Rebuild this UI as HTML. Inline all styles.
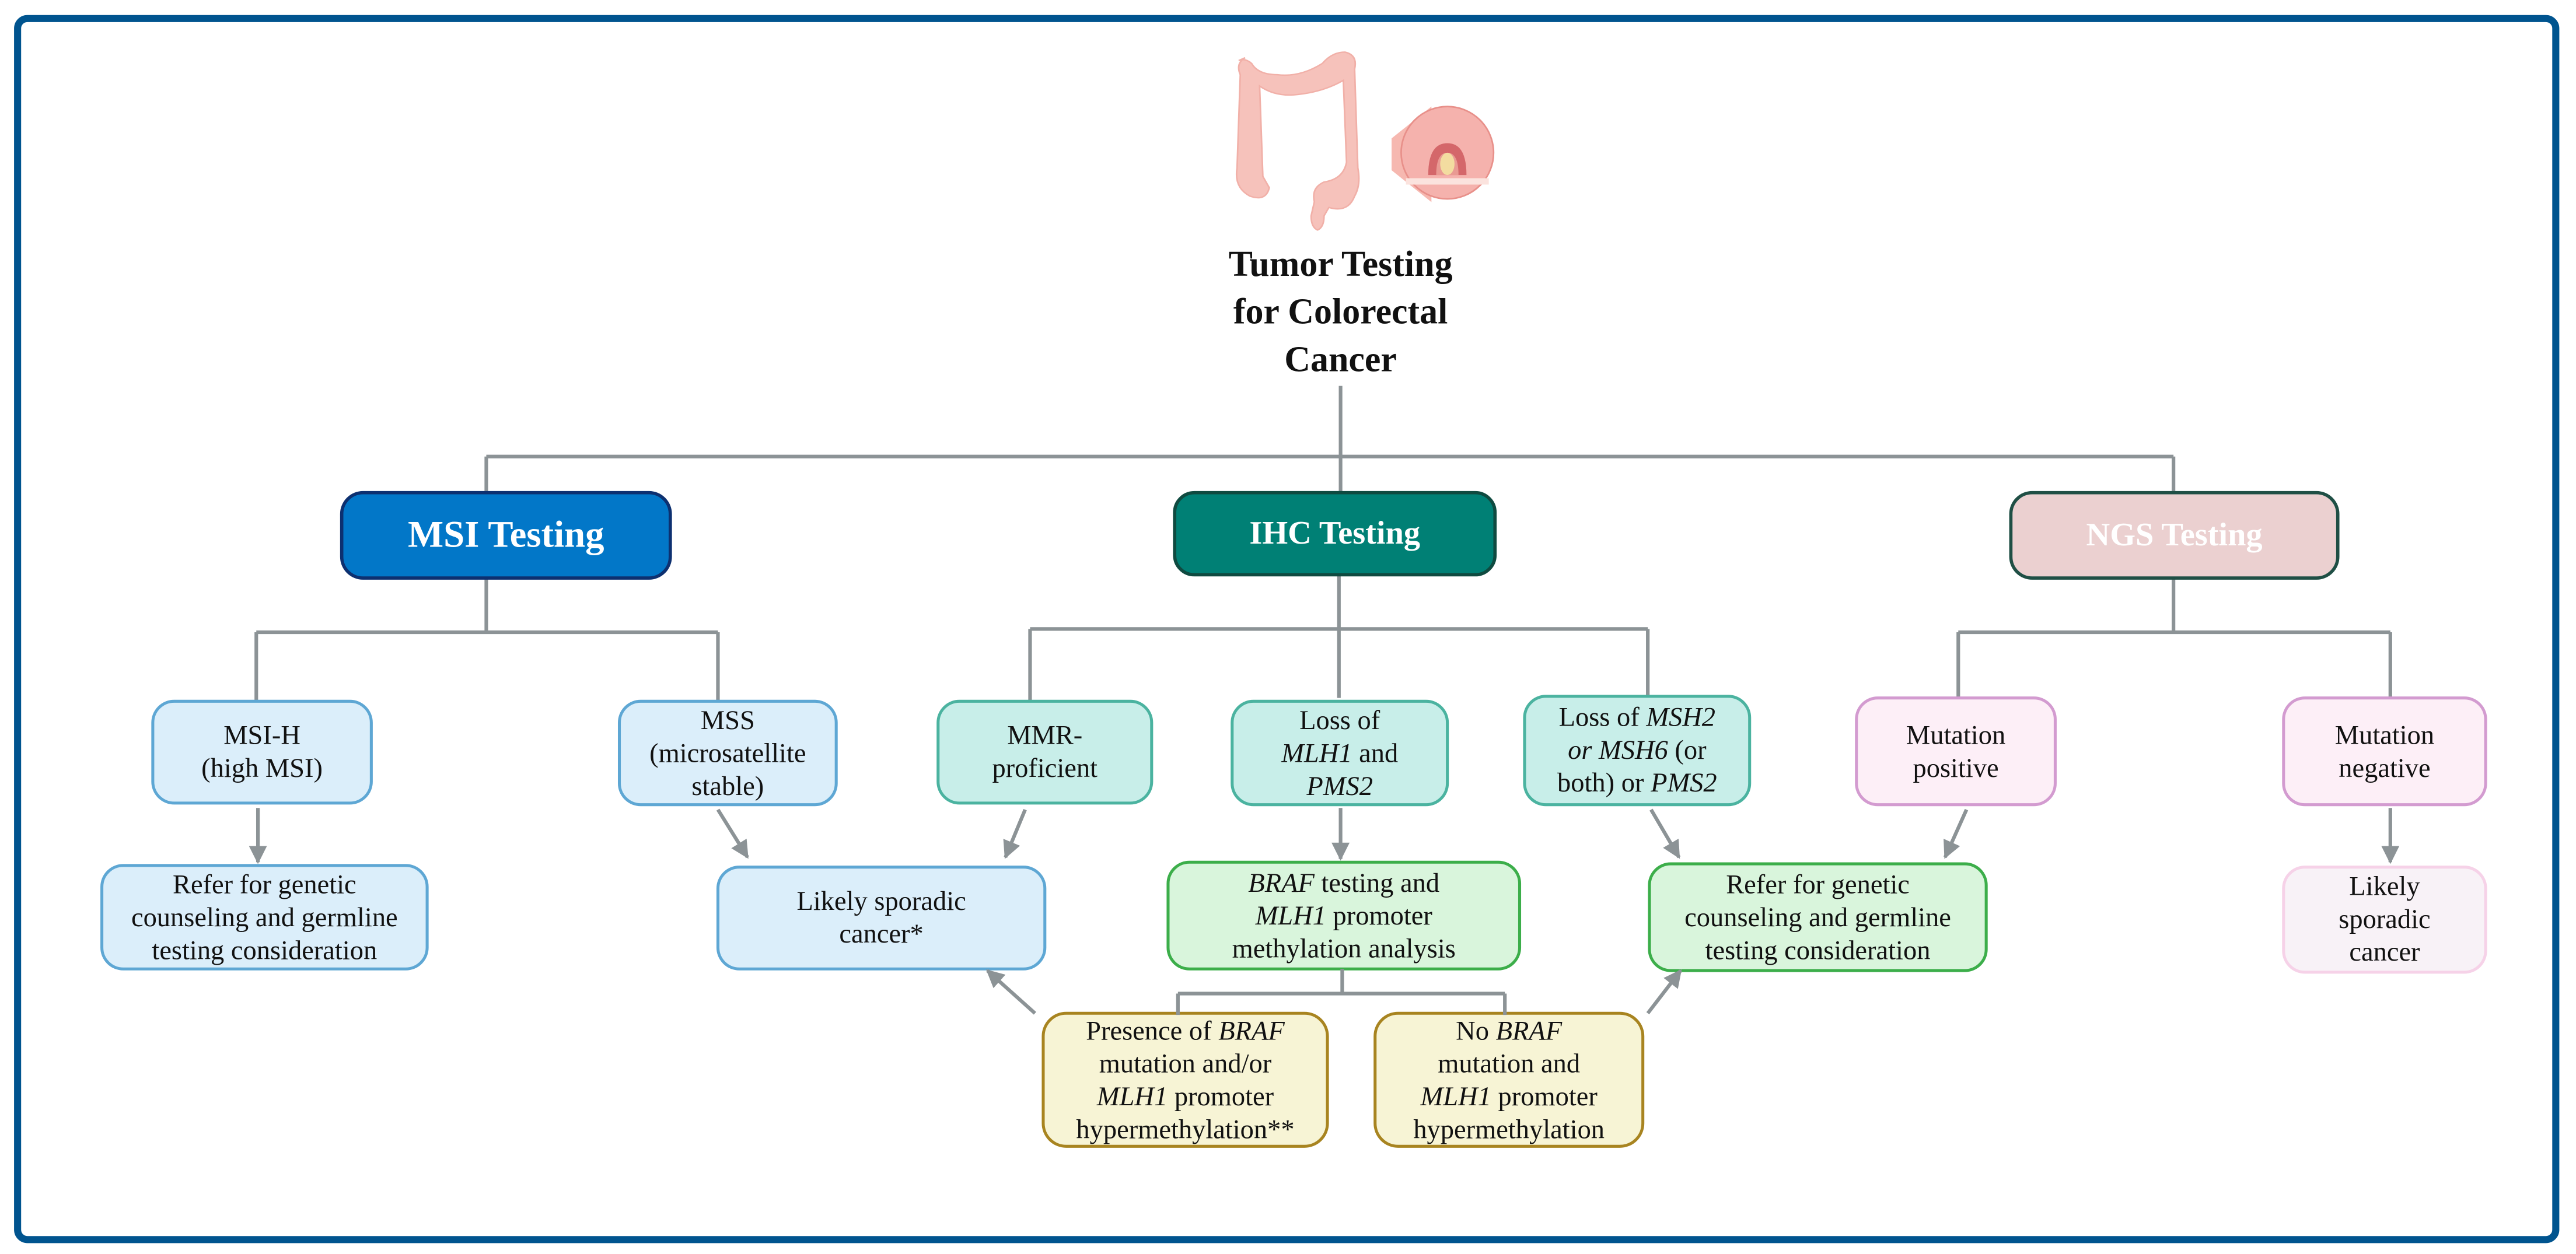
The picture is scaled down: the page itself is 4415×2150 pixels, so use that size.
<!DOCTYPE html>
<html><head><meta charset="utf-8"><style>
html,body{margin:0;padding:0;background:#fff;width:4415px;height:2150px;overflow:hidden}
.c{position:absolute;left:0;top:0;width:1568px;height:763.6px;transform:scale(2.81569);transform-origin:0 0}
svg{position:absolute;left:0;top:0;display:block}
.b{position:absolute;display:flex;align-items:center;justify-content:center;text-align:center;font-family:"Liberation Serif","Times New Roman",serif;font-size:16.5px;line-height:20px;color:#111}
.b i{font-style:italic}
.h{font-size:22px;font-weight:bold;color:#fff;line-height:26px}
.ln{stroke:#8c9396;stroke-width:2.2;fill:none}
</style></head><body>
<div class="c">
<svg width="1568" height="763.6" viewBox="0 0 1568 763.6" xmlns="http://www.w3.org/2000/svg">
<defs>
<marker id="a" viewBox="0 0 10 10" refX="9" refY="5" markerWidth="5" markerHeight="5" orient="auto" markerUnits="strokeWidth"><path d="M0,0 L10,5 L0,10 z" fill="#8c9396"/></marker>
</defs>
<rect x="10.7" y="11.3" width="1545" height="743.5" rx="6" fill="#fff" stroke="#00548f" stroke-width="4.3"/>

<g fill="#f6c2bb" stroke="#f1b0a8" stroke-width="1" transform="translate(753,30) scale(0.98,0.86) translate(-755,-38)">
<path d="M760,44 q-6,4 -3,12 l-2,66 q-2,14 8,20 q10,4 12,-6 l-4,-8 l-2,-64 q10,8 24,6 q16,-2 28,-10 l2,58 q-2,12 -14,14 q-8,4 -6,14 l-2,10 q0,8 4,10 q4,-2 4,-10 l3,-6 q12,4 16,-8 q4,-8 2,-20 l-2,-70 q2,-10 -6,-12 q-8,0 -14,8 q-14,10 -28,8 q-12,0 -16,-8 q-4,-4 -8,-2 z"/>
</g>
<g transform="translate(881,93) scale(0.97) translate(-882,-99)">
<path d="M847,90 L872,70 L872,130 L847,110 z" fill="#f6b8b0"/>
<circle cx="882" cy="99" r="29" fill="#f5b2ad" stroke="#e8908a" stroke-width="1"/>
<path d="M870,113 q0,-20 12,-20 q12,0 12,20 z" fill="#d4676a"/>
<path d="M875,113 q0,-14 7,-14 q7,0 7,14 z" fill="#e99a93"/>
<ellipse cx="882" cy="106" rx="4.5" ry="7" fill="#f3dca0"/>
<rect x="856" y="115" width="52" height="4" fill="#fbe3de"/>
</g>

<path class="ln" d="M816,235 V300 M296,278 H1323 M296,278 V300 M1323,278 V300"/>
<path class="ln" d="M296,352 V385 M156,385 H437 M156,385 V427 M437,385 V427"/>
<path class="ln" d="M815,350 V425 M627,383 H1003 M627,383 V427 M1003,383 V425"/>
<path class="ln" d="M1323,352 V385 M1192,385 H1455 M1192,385 V427 M1455,385 V425"/>

<rect x="208" y="300" width="200" height="52" rx="13" fill="#0277c8" stroke="#0d3070" stroke-width="2"/>
<rect x="715" y="300" width="195" height="50" rx="12" fill="#008075" stroke="#0f4a40" stroke-width="2"/>
<rect x="1224" y="300" width="199" height="52" rx="13" fill="#ebd0d0" stroke="#1f4f45" stroke-width="2"/>

<g stroke-width="1.8">
<rect x="93" y="427" width="133" height="62" rx="13" fill="#dbeefa" stroke="#5ea7d4"/>
<rect x="377" y="427" width="132" height="63" rx="13" fill="#dbeefa" stroke="#5ea7d4"/>
<rect x="571" y="427" width="130" height="62" rx="13" fill="#c8eee9" stroke="#4bb3a0"/>
<rect x="750" y="427" width="131" height="63" rx="13" fill="#c8eee9" stroke="#4bb3a0"/>
<rect x="928" y="424" width="137" height="66" rx="13" fill="#c8eee9" stroke="#4bb3a0"/>
<rect x="1130" y="425" width="121" height="65" rx="13" fill="#fdeff7" stroke="#d39bd0"/>
<rect x="1390" y="425" width="123" height="65" rx="13" fill="#fdeff7" stroke="#d39bd0"/>
<rect x="62" y="527" width="198" height="63" rx="13" fill="#dbeefa" stroke="#5ea7d4"/>
<rect x="437" y="528" width="199" height="62" rx="13" fill="#dbeefa" stroke="#5ea7d4"/>
<rect x="711" y="525" width="214" height="65" rx="13" fill="#d9f5dc" stroke="#3cae4a"/>
<rect x="1004" y="526" width="205" height="65" rx="13" fill="#d9f5dc" stroke="#3cae4a"/>
<rect x="1390" y="528" width="123" height="64" rx="13" fill="#f8f2f7" stroke="#f6d2e8"/>
<rect x="635" y="617" width="173" height="81" rx="14" fill="#f7f4d5" stroke="#a88420"/>
<rect x="837" y="617" width="163" height="81" rx="14" fill="#f7f4d5" stroke="#a88420"/>
</g>

<g class="ln" marker-end="url(#a)">
<path d="M157,492 V525"/>
<path d="M437,493 L455,522"/>
<path d="M624,493 L612,522"/>
<path d="M816,492 V523"/>
<path d="M1005,493 L1022,522"/>
<path d="M1197,493 L1184,522"/>
<path d="M1455,492 V525"/>
<path d="M630,617 L601,591"/>
<path d="M1003,617 L1023,591"/>
</g>
<path class="ln" d="M817,590 V605 M717,605 H916 M717,605 V618 M916,605 V618"/>
</svg>

<div class="b" style="left:716px;top:145px;width:200px;height:88px;font-size:22px;font-weight:bold;line-height:29px"><span>Tumor Testing<br>for Colorectal<br>Cancer</span></div>

<div class="b h" style="left:208px;top:300px;width:200px;height:52px;font-size:23px"><span>MSI Testing</span></div>
<div class="b h" style="left:715px;top:300px;width:195px;height:50px;font-size:20px"><span>IHC Testing</span></div>
<div class="b h" style="left:1224px;top:300px;width:199px;height:52px;font-size:20px"><span>NGS Testing</span></div>

<div class="b" style="left:93px;top:427px;width:133px;height:62px"><span>MSI-H<br>(high MSI)</span></div>
<div class="b" style="left:377px;top:427px;width:132px;height:63px"><span>MSS<br>(microsatellite<br>stable)</span></div>
<div class="b" style="left:571px;top:427px;width:130px;height:62px"><span>MMR-<br>proficient</span></div>
<div class="b" style="left:750px;top:427px;width:131px;height:63px"><span>Loss of<br><i>MLH1</i> and<br><i>PMS2</i></span></div>
<div class="b" style="left:928px;top:424px;width:137px;height:66px"><span>Loss of <i>MSH2</i><br><i>or MSH6</i> (or<br>both) or <i>PMS2</i></span></div>
<div class="b" style="left:1130px;top:425px;width:121px;height:65px"><span>Mutation<br>positive</span></div>
<div class="b" style="left:1390px;top:425px;width:123px;height:65px"><span>Mutation<br>negative</span></div>

<div class="b" style="left:62px;top:527px;width:198px;height:63px"><span>Refer for genetic<br>counseling and germline<br>testing consideration</span></div>
<div class="b" style="left:437px;top:528px;width:199px;height:62px"><span>Likely sporadic<br>cancer*</span></div>
<div class="b" style="left:711px;top:525px;width:214px;height:65px"><span><i>BRAF</i> testing and<br><i>MLH1</i> promoter<br>methylation analysis</span></div>
<div class="b" style="left:1004px;top:526px;width:205px;height:65px"><span>Refer for genetic<br>counseling and germline<br>testing consideration</span></div>
<div class="b" style="left:1390px;top:528px;width:123px;height:64px"><span>Likely<br>sporadic<br>cancer</span></div>

<div class="b" style="left:635px;top:617px;width:173px;height:81px"><span>Presence of <i>BRAF</i><br>mutation and/or<br><i>MLH1</i> promoter<br>hypermethylation**</span></div>
<div class="b" style="left:837px;top:617px;width:163px;height:81px"><span>No <i>BRAF</i><br>mutation and<br><i>MLH1</i> promoter<br>hypermethylation</span></div>
</div>
</body></html>
